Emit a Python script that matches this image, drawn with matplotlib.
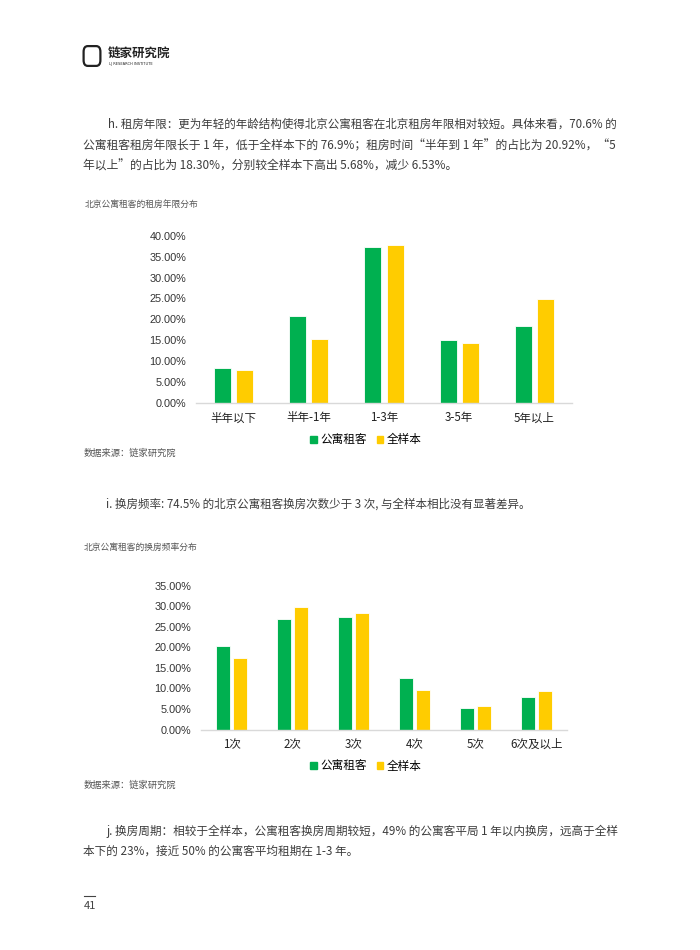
import matplotlib
matplotlib.use("Agg")
import matplotlib.pyplot as plt
import numpy as np
from matplotlib.patches import Patch, FancyBboxPatch
from matplotlib.ticker import FuncFormatter

plt.rcParams['font.family'] = ['Noto Sans CJK SC', 'DejaVu Sans']

# chart h: 租房年限
years_cats = ["半年以下", "半年-1年", "1-3年", "3-5年", "5年以上"]
years_apt = [8.48, 20.92, 37.2, 15.1, 18.3]
years_all = [7.86, 15.24, 37.8, 14.27, 24.83]

# chart i: 换房频率
freq_cats = ["1次", "2次", "3次", "4次", "5次", "6次及以上"]
freq_apt = [20.3, 26.9, 27.5, 12.5, 5.25, 7.9]
freq_all = [17.3, 29.9, 28.3, 9.7, 5.75, 9.45]

series_names = ["公寓租客", "全样本"]

GREEN = "#00B050"
YELLOW = "#FFCC00"
TXT = "#3c3c3c"

W, H = 700, 950
fig = plt.figure(figsize=(7, 9.5), dpi=100)


def fx(px):
    return px / W


def fy(py):
    return 1 - py / H


def line(x, y, s, size=8.4, color=TXT, **kw):
    fig.text(fx(x), fy(y), s, fontsize=size, color=color, va="center", ha="left", **kw)


# header logo
logo = FancyBboxPatch((fx(85), fy(64)), fx(14), 16 / H, boxstyle="round,pad=0.002,rounding_size=0.006",
                      transform=fig.transFigure, fill=False, edgecolor="#222222", linewidth=1.6)
fig.patches.append(logo)
line(108, 54.5, "链家研究院", size=9, color="#222222", fontweight="bold")
line(109, 63.5, "LJ RESEARCH INSTITUTE", size=2.6, color="#222222", family="DejaVu Sans")

# paragraph h
line(108, 124.3, "h. 租房年限：更为年轻的年龄结构使得北京公寓租客在北京租房年限相对较短。具体来看，70.6% 的", size=8.3)
line(83, 145.5, "公寓租客租房年限长于 1 年，低于全样本下的 76.9%；租房时间“半年到 1 年”的占比为 20.92%，“5", size=8.5)
line(83, 166, "年以上”的占比为 18.30%，分别较全样本下高出 5.68%，减少 6.53%。", size=8.5)
line(85, 204, "北京公寓租客的租房年限分布", size=6.3, color="#555555")
line(84, 453.5, "数据来源：链家研究院", size=6.7, color="#555555")

# paragraph i
line(106, 504.5, "i. 换房频率: 74.5% 的北京公寓租客换房次数少于 3 次, 与全样本相比没有显著差异。", size=8.3)
line(84, 547.5, "北京公寓租客的换房频率分布", size=6.3, color="#555555")
line(84, 785.5, "数据来源：链家研究院", size=6.7, color="#555555")

# paragraph j
line(107, 831, "j. 换房周期：相较于全样本，公寓租客换房周期较短，49% 的公寓客平局 1 年以内换房，远高于全样")
line(83, 851, "本下的 23%，接近 50% 的公寓客平均租期在 1-3 年。")

# page number
fig.add_artist(plt.Line2D([fx(84), fx(95)], [fy(896), fy(896)], color="#444444", linewidth=0.8))
line(84, 906, "41", size=8, color="#444444")


def bar_chart(left, right, top, bottom, ymax, cats, apt, alls, offset, width, legend_y):
    ax = fig.add_axes([fx(left), fy(bottom), fx(right - left), (bottom - top) / H])
    x = np.arange(len(cats))
    ax.bar(x - offset, apt, width, color=GREEN, edgecolor="white", linewidth=0.6)
    ax.bar(x + offset, alls, width, color=YELLOW, edgecolor="white", linewidth=0.6)
    ax.set_xlim(-0.5, len(cats) - 0.5)
    ax.set_ylim(0, ymax)
    ax.set_yticks(np.arange(0, ymax + 0.1, 5))
    ax.yaxis.set_major_formatter(FuncFormatter(lambda v, p: f"{v:.2f}%"))
    ax.set_xticks(x)
    ax.set_xticklabels(cats, fontsize=8.3, color="#222222")
    for lab in ax.get_yticklabels():
        lab.set_fontsize(7.8)
        lab.set_color("#333333")
        lab.set_family(["Liberation Sans", "DejaVu Sans"])
    ax.tick_params(axis="both", length=0)
    ax.tick_params(axis="y", pad=7)
    ax.tick_params(axis="x", pad=6)
    for s in ["top", "right", "left"]:
        ax.spines[s].set_visible(False)
    ax.spines["bottom"].set_color("#D9D9D9")
    ax.spines["bottom"].set_linewidth(1.0)
    ax.patch.set_alpha(0)
    handles = [Patch(color=GREEN), Patch(color=YELLOW)]
    fig.legend(handles, series_names, loc="center", bbox_to_anchor=(fx(366), fy(legend_y)),
               ncol=2, frameon=False, fontsize=8.4, handlelength=0.55, handleheight=0.55,
               handletextpad=0.3, columnspacing=0.9, borderpad=0)
    return ax


bar_chart(196, 572, 235.7, 403, 40, years_cats, years_apt, years_all, 0.147, 0.226, 440)
bar_chart(201, 567, 585.7, 729.5, 35, freq_cats, freq_apt, freq_all, 0.142, 0.223, 766.5)

fig.savefig("out.png", dpi=100, facecolor="white")
